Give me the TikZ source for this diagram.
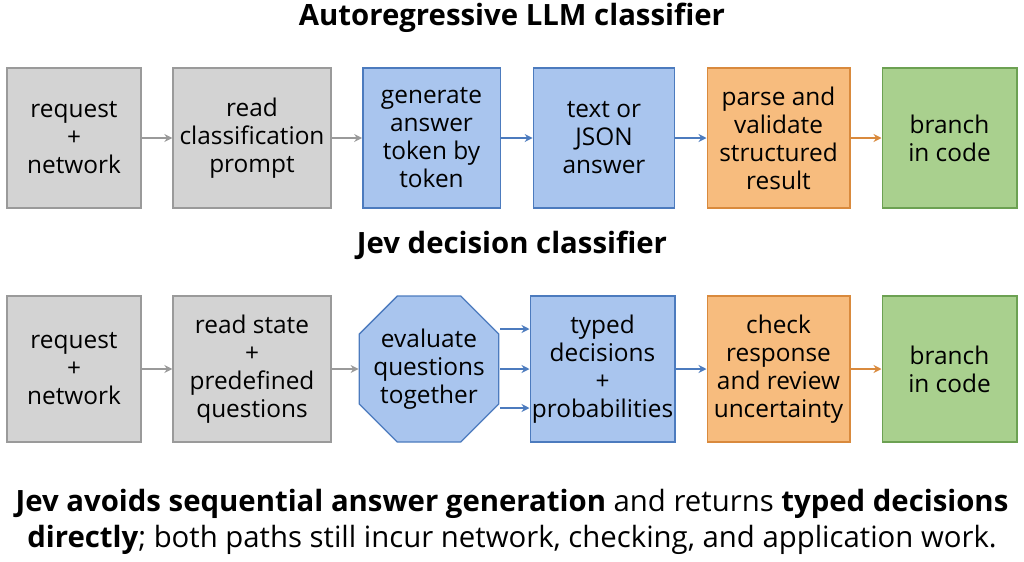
\documentclass[tikz,border=0pt]{standalone}
\usepackage{fontspec}
\setmainfont{Open Sans}
\usetikzlibrary{positioning,shapes.geometric,shapes.misc,arrows.meta}

\definecolor{grayfill}{HTML}{D3D3D3}
\definecolor{grayline}{HTML}{9A9A9A}
\definecolor{bluefill}{HTML}{A9C5EE}
\definecolor{blueline}{HTML}{4C7BBE}
\definecolor{orangefill}{HTML}{F7BC7E}
\definecolor{orangeline}{HTML}{D98A3D}
\definecolor{greenfill}{HTML}{A9D08E}
\definecolor{greenline}{HTML}{6CA152}

\tikzset{
  box/.style={draw, line width=1pt, align=center, inner sep=0pt,
    font=\fontsize{18.3}{21}\selectfont},
  gray box/.style={box, fill=grayfill, draw=grayline},
  blue box/.style={box, fill=bluefill, draw=blueline},
  orange box/.style={box, fill=orangefill, draw=orangeline},
  green box/.style={box, fill=greenfill, draw=greenline},
  arr/.style={-{Stealth[length=6pt,width=6pt]}, line width=1.2pt},
  title/.style={font=\fontsize{22}{26}\selectfont\bfseries}
}

\begin{document}
\begin{tikzpicture}[x=0.75pt,y=-0.75pt]
  \useasboundingbox (0,0) rectangle (1024,561);
  % top row
  \node[title] (t1) at (512,18) {Autoregressive LLM classifier};
  \node[gray box, minimum width=100.5pt, minimum height=105pt]
    (a1) at (74,138) {request\\+\\network};
  \node[gray box, minimum width=118.5pt, minimum height=105pt]
    (a2) at (252,138) {read\\classification\\prompt};
  \node[blue box, minimum width=103pt, minimum height=105pt]
    (a3) at (431.5,138) {generate\\answer\\token by\\token};
  \node[blue box, minimum width=106pt, minimum height=105pt]
    (a4) at (604,138) {text or\\JSON\\answer};
  \node[orange box, minimum width=107pt, minimum height=105pt]
    (a5) at (778.5,138) {parse and\\validate\\structured\\result};
  \node[green box, minimum width=101pt, minimum height=105pt]
    (a6) at (949.5,138) {branch\\in code};
  \draw[arr, grayline] (a1) -- (a2);
  \draw[arr, grayline] (a2) -- (a3);
  \draw[arr, blueline] (a3) -- (a4);
  \draw[arr, blueline] (a4) -- (a5);
  \draw[arr, orangeline] (a5) -- (a6);
  % bottom row
  \node[title] (t2) at (512,245) {Jev decision classifier};
  \node[gray box, minimum width=100.5pt, minimum height=109.5pt]
    (b1) at (74,369) {request\\+\\network};
  \node[gray box, minimum width=118.5pt, minimum height=109.5pt]
    (b2) at (252,369) {read state\\+\\predefined\\questions};
  \node[blue box, chamfered rectangle, chamfered rectangle xsep=10.5pt,
    chamfered rectangle ysep=18pt, minimum width=85.5pt, minimum height=109.5pt]
    (b3) at (429,369) {evaluate\\questions\\together};
  \node[blue box, minimum width=108.5pt, minimum height=109.5pt]
    (b4) at (602.5,369) {typed\\decisions\\+\\probabilities};
  \node[orange box, minimum width=107pt, minimum height=109.5pt]
    (b5) at (778.5,369) {check\\response\\and review\\uncertainty};
  \node[green box, minimum width=101pt, minimum height=109.5pt]
    (b6) at (949.5,369) {branch\\in code};
  \coordinate (o1) at (500,329);
  \coordinate (o2) at (500,369);
  \coordinate (o3) at (500,408);
  \draw[arr, grayline] (b1) -- (b2);
  \draw[arr, grayline] (b2) -- (b3);
  \draw[arr, blueline] (o1) -- (b4.west |- o1);
  \draw[arr, blueline] (o2) -- (b4.west |- o2);
  \draw[arr, blueline] (o3) -- (b4.west |- o3);
  \draw[arr, blueline] (b4) -- (b5);
  \draw[arr, orangeline] (b5) -- (b6);
  % caption
  \node[font=\fontsize{22}{27}\selectfont, align=center] (cap) at (512,522)
    {\textbf{Jev avoids sequential answer generation} and returns \textbf{typed decisions}\\
     \textbf{directly}; both paths still incur network, checking, and application work.};
\end{tikzpicture}
\end{document}
